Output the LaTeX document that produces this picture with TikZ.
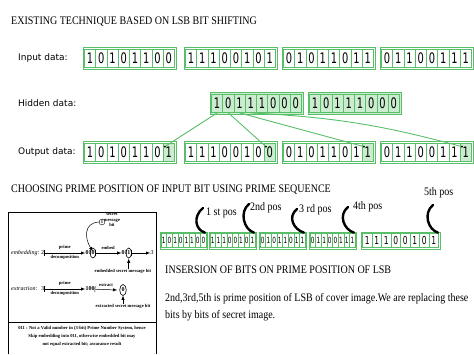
\documentclass[tikz,border=0pt]{standalone}
\usepackage{fontspec}
\setmainfont{Liberation Serif}
\newfontfamily\headfont[FakeStretch=0.87]{Liberation Serif}
\newfontfamily\labelfont{DejaVu Sans}
\newfontfamily\bitfont[FakeStretch=0.68]{DejaVu Sans}
\usetikzlibrary{positioning, calc}

\definecolor{cellgreen}{RGB}{88,190,104}
\definecolor{cellfill}{RGB}{204,236,208}

\begin{document}
\begin{tikzpicture}[x=1pt, y=-1pt,
    % Define custom styles for the bit boxes
    bitcell/.style={
        draw=cellgreen,
        line width=0.8pt,
        rectangle,
        inner sep=0pt,
        minimum width=11.25pt,
        minimum height=18pt,
        font=\bitfont\fontsize{14.5}{14.5}\selectfont
    },
    bytebox/.style={draw=cellgreen, line width=0.8pt, rectangle, inner sep=0pt,
        minimum width=93pt, minimum height=22pt},
    smallcell/.style={bitcell, minimum width=5.65pt, minimum height=14pt,
        font=\bitfont\fontsize{8.5}{8.5}\selectfont},
    widecell/.style={bitcell, minimum width=9.5pt, minimum height=14pt,
        font=\bitfont\fontsize{11}{11}\selectfont},
    smallbyte/.style={bytebox, minimum width=47pt, minimum height=17pt},
    rowlabel/.style={anchor=west, inner sep=0pt, font=\labelfont\fontsize{9}{9}\selectfont},
    headtext/.style={anchor=base west, inner sep=0pt, font=\headfont\fontsize{11.5}{12}\selectfont},
    lsbdot/.style={circle, fill=black, inner sep=0pt, minimum size=2.2pt},
    hideline/.style={draw=cellgreen, line width=0.9pt},
    posmark/.style={line width=2.4pt, line cap=round},
    figtext/.style={inner sep=0pt, font=\bfseries\fontsize{4.6}{5.6}\selectfont},
    figarrow/.style={|->, >=latex, line width=0.5pt},
    figline/.style={line width=0.6pt}
]
\useasboundingbox (0,0) rectangle (474,354);

% Existing technique
\node[headtext] (title1) at (11,24) {EXISTING TECHNIQUE BASED ON LSB BIT SHIFTING};

% Input data
\node[rowlabel] (inlabel) at (18,58) {Input data:};
\foreach \g/\gx/\bits in {1/83/{1,0,1,0,1,1,0,0}, 2/184/{1,1,1,0,0,1,0,1},
                          3/282/{0,1,0,1,1,0,1,1}, 4/380/{0,1,1,0,0,1,1,1}} {
  \node[bytebox] (inbyte\g) at (\gx+46.5,58) {};
  \foreach \b [count=\i] in \bits
    \node[bitcell] (in\g\i) at ({\gx+1.5+(\i-0.5)*11.25},58) {\b};
}

% Hidden data
\node[rowlabel] (hidlabel) at (18,103.5) {Hidden data:};
\foreach \g/\gx in {1/210, 2/308} {
  \node[bytebox, fill=cellfill] (hidbyte\g) at (\gx+46.5,103.5) {};
  \foreach \b [count=\i] in {1,0,1,1,1,0,0,0}
    \node[bitcell, fill=cellfill] (hid\g\i) at ({\gx+1.5+(\i-0.5)*11.25},103.5) {\b};
}

% Output data, LSB replaced
\node[rowlabel] (outlabel) at (18,152) {Output data:};
\foreach \g/\gx/\bits/\lsb in {1/83/{1,0,1,0,1,1,0}/1, 2/184/{1,1,1,0,0,1,0}/0,
                               3/282/{0,1,0,1,1,0,1}/1, 4/380/{0,1,1,0,0,1,1}/1} {
  \node[bytebox] (outbyte\g) at (\gx+46.5,152) {};
  \foreach \b [count=\i] in \bits
    \node[bitcell] (out\g\i) at ({\gx+1.5+(\i-0.5)*11.25},152) {\b};
  \node[bitcell, fill=cellfill] (out\g8) at ({\gx+1.5+7.5*11.25},152) {\lsb};
  \node[lsbdot] (dot\g) at ([xshift=2pt,yshift=-4pt]out\g8.north west) {};
}

% hidden bits go to the LSBs
\draw[hideline] (hid11.south) -- (dot1);
\draw[hideline] (hid12.south) -- (dot2);
\draw[hideline] (hid13.south) -- (dot3);
\draw[hideline] (hid14.south) to[bend left=6] (dot4);

% Prime positions
\node[headtext] (title2) at (11,192) {CHOOSING PRIME POSITION OF INPUT BIT USING PRIME SEQUENCE};

\foreach \g/\gx/\bits in {1/160/{1,0,1,0,1,1,0,0}, 2/209/{1,1,1,0,0,1,0,1},
                          3/259/{0,1,0,1,1,0,1,1}, 4/309/{0,1,1,0,0,1,1,1}} {
  \node[smallbyte] (sbyte\g) at (\gx+23.5,240.5) {};
  \foreach \b [count=\i] in \bits
    \node[smallcell] (s\g\i) at ({\gx+1+(\i-0.5)*5.65},240.5) {\b};
}
\node[smallbyte, minimum width=79pt] (sbyte5) at (400.5,240.5) {};
\foreach \b [count=\i] in {1,1,1,0,0,1,0,1}
  \node[widecell] (s5\i) at ({362.5+(\i-0.5)*9.5},240.5) {\b};

\node[headtext] (pos1) at (206,215) {1 st pos};
\node[headtext] (pos2) at (250,210) {2nd pos};
\node[headtext] (pos3) at (299,212) {3 rd pos};
\node[headtext] (pos4) at (353,209) {4th pos};
\node[headtext] (pos5) at (424,195) {5th pos};

\coordinate (mark1) at (203,208);
\coordinate (mark2) at (249,204);
\coordinate (mark3) at (297,209);
\coordinate (mark4) at (348,207);
\coordinate (mark5) at (433,205);
\foreach \g in {1,...,5}
  \draw[posmark] (mark\g) .. controls +(-10,8) and +(-10,-3) .. ([xshift=-2.5pt,yshift=-1pt]sbyte\g.north east);

% Insertion text
\node[headtext] (title3) at (165,273) {INSERSION OF BITS ON PRIME POSITION OF LSB};
\node[headtext] (body1) at (165,301) {2nd,3rd,5th is prime position of LSB of cover image.We are replacing these};
\node[headtext] (body2) at (165,318) {bits by bits of secret image.};

% Embedding / extraction figure
\draw[figline] (8,354) -- (8,212) -- (156,212) -- (156,354);
\draw[figline] (8,322) -- (156,322);

\node[figtext, anchor=west, font=\itshape\fontsize{6}{6}\selectfont] (emblabel) at (11,253) {embedding:};
\node[figtext, font=\fontsize{6}{6}\selectfont] (two) at (42.5,253) {2};
\node[figtext, font=\bfseries\fontsize{6}{6}\selectfont] (e010) at (90,253) {010};
\node[figtext, font=\bfseries\fontsize{6}{6}\selectfont] (e011) at (126,253) {011};
\node[figtext, font=\fontsize{6}{6}\selectfont] (three) at (152,253) {3};
\coordinate (ring1) at ([xshift=-1.8pt]e010.east);
\coordinate (ring2) at ([xshift=-1.8pt]e011.east);
\draw[figline] (ring1) ellipse (2.8 and 5);
\draw[figline] (ring2) ellipse (2.8 and 5);
\draw[figarrow] (two) -- node[figtext, above=3pt] {prime} node[figtext, below=2pt] {decomposition} (e010);
\draw[figarrow] (e010) -- node[figtext, above=3pt] {embed} (e011);
\draw[figarrow] (e011) -- (three);

\node[figtext, draw, circle, inner sep=0.7pt] (sbit) at (102,222) {1};
\node[figtext, align=center] (sbitlabel) at (112,220) {secret\\message\\bit};
\draw[->, >=latex, line width=0.5pt] (sbit.west) .. controls +(-16,1) and +(-8,-12) .. ([yshift=-0.5pt]ring1 |- e010.north);

\node[figtext] (embbit) at (123,271) {embedded secret message bit};
\draw[->, >=latex, line width=0.5pt] (embbit.north -| ring2) -- ([yshift=-5.5pt]ring2);

\node[figtext, anchor=west, font=\itshape\fontsize{6}{6}\selectfont] (extlabel) at (11,289) {extraction:};
\node[figtext, font=\fontsize{6}{6}\selectfont] (xthree) at (42.5,289) {3};
\node[figtext, font=\bfseries\fontsize{6}{6}\selectfont] (x100) at (90,289) {100};
\node[figtext, font=\bfseries\fontsize{6}{6}\selectfont] (xbit) at (123,290) {0};
\draw[figline] (xbit) ellipse (3.3 and 5.5);
\draw[figarrow] (xthree) -- node[figtext, above=3pt] {prime} node[figtext, below=2pt] {decomposition} (x100);
\draw[figarrow] (x100) -- node[figtext, above=3pt] {extract} ([xshift=-4pt]xbit.west);

\node[figtext] (extbit) at (123,306) {extracted secret message bit};
\draw[->, >=latex, line width=0.5pt] (extbit.north) -- ([yshift=-5.5pt]xbit.center);

\node[figtext] (note1) at (82,328) {011 : Not a Valid number in (3-bit) Prime Number System, hence};
\node[figtext] (note2) at (82,336) {Skip embedding into 011, otherwise embedded bit may};
\node[figtext] (note3) at (82,344) {not equal extracted bit; assurance result};

\end{tikzpicture}
\end{document}
